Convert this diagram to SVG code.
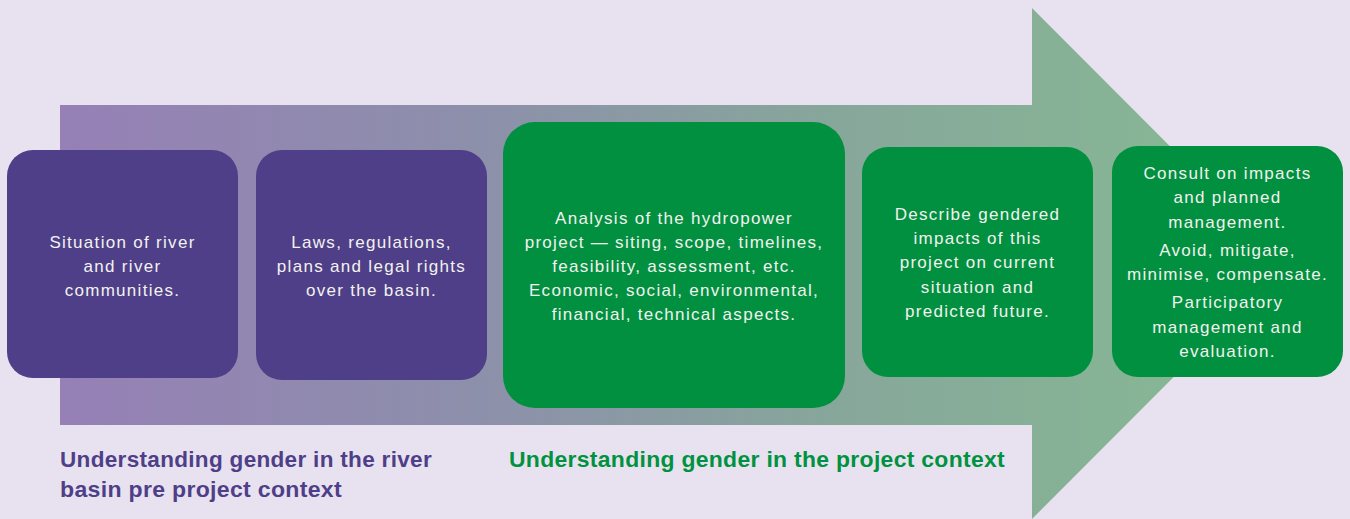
<svg xmlns="http://www.w3.org/2000/svg" width="1350" height="519" viewBox="0 0 1350 519">
<defs>
<linearGradient id="ag" gradientUnits="userSpaceOnUse" x1="60" y1="0" x2="1290" y2="0">
<stop offset="0" stop-color="#9680b6"/>
<stop offset="0.33" stop-color="#8d8fab"/>
<stop offset="0.62" stop-color="#87a69b"/>
<stop offset="1" stop-color="#86bb92"/>
</linearGradient>
<style>
.p{fill:#4e3f88}
.g{fill:#00903f}
.t{font-family:"Liberation Sans",Arial,sans-serif;font-size:17px;fill:#f2f2ee;text-anchor:middle;letter-spacing:1.3px}
.lab{font-family:"Liberation Sans",Arial,sans-serif;font-size:22px;font-weight:bold;letter-spacing:0.3px}
</style>
</defs>
<rect width="1350" height="519" fill="#e8e2f0"/>
<g id="connectors">
<path d="M60 105 H1032 V8 L1287 263.5 L1032 519 V425 H60 Z" fill="url(#ag)"/>
</g>
<g id="n1">
<rect class="p" x="7" y="150" width="231" height="228" rx="26"/>
<text class="t" x="122.5" y="248">Situation of river</text>
<text class="t" x="122.5" y="272">and river</text>
<text class="t" x="122.5" y="296">communities.</text>
</g>
<g id="n2">
<rect class="p" x="256" y="150" width="231" height="230" rx="26"/>
<text class="t" x="371.5" y="248">Laws, regulations,</text>
<text class="t" x="371.5" y="272">plans and legal rights</text>
<text class="t" x="371.5" y="296">over the basin.</text>
</g>
<g id="n3">
<rect class="g" x="503" y="122" width="342" height="286" rx="32"/>
<text class="t" x="674" y="224">Analysis of the hydropower</text>
<text class="t" x="674" y="248">project — siting, scope, timelines,</text>
<text class="t" x="674" y="272">feasibility, assessment, etc.</text>
<text class="t" x="674" y="296">Economic, social, environmental,</text>
<text class="t" x="674" y="320">financial, technical aspects.</text>
</g>
<g id="n4">
<rect class="g" x="862" y="147" width="231" height="230" rx="26"/>
<text class="t" x="977.5" y="220">Describe gendered</text>
<text class="t" x="977.5" y="244">impacts of this</text>
<text class="t" x="977.5" y="268">project on current</text>
<text class="t" x="977.5" y="293">situation and</text>
<text class="t" x="977.5" y="317">predicted future.</text>
</g>
<g id="n5">
<rect class="g" x="1112" y="146" width="231" height="231" rx="26"/>
<text class="t" x="1227.5" y="179">Consult on impacts</text>
<text class="t" x="1227.5" y="203">and planned</text>
<text class="t" x="1227.5" y="228">management.</text>
<text class="t" x="1227.5" y="256">Avoid, mitigate,</text>
<text class="t" x="1227.5" y="280">minimise, compensate.</text>
<text class="t" x="1227.5" y="308">Participatory</text>
<text class="t" x="1227.5" y="333">management and</text>
<text class="t" x="1227.5" y="357">evaluation.</text>
</g>
<g id="labels">
<text class="lab" x="60" y="467" fill="#4e3f88" textLength="372" lengthAdjust="spacingAndGlyphs">Understanding gender in the river</text>
<text class="lab" x="60" y="497" fill="#4e3f88" textLength="282" lengthAdjust="spacingAndGlyphs">basin pre project context</text>
<text class="lab" x="509" y="467" fill="#00923f" textLength="496" lengthAdjust="spacingAndGlyphs">Understanding gender in the project context</text>
</g>
</svg>
